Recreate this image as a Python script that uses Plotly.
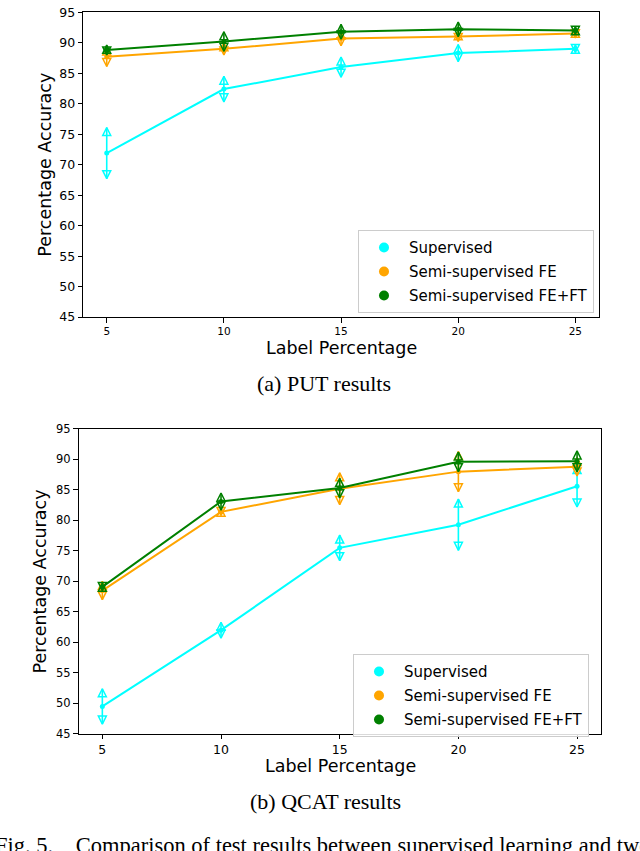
import plotly.graph_objects as go

# ---------------- data ----------------
x_pct = [5, 10, 15, 20, 25]
x_ticks = [5, 10, 15, 20, 25]
y_ticks = [45, 50, 55, 60, 65, 70, 75, 80, 85, 90, 95]

series_names = ["Supervised", "Semi-supervised FE", "Semi-supervised FE+FT"]
series_colors = ["#00ffff", "#ffa500", "#008000"]

# (a) PUT results
put_sup = [71.9, 82.4, 86.0, 88.3, 89.0]
put_sup_err = [4.2, 2.1, 1.65, 1.4, 0.6]
put_fe = [87.7, 89.0, 90.7, 91.0, 91.5]
put_fe_err = [1.6, 1.0, 1.2, 0.8, 0.7]
put_feft = [88.8, 90.2, 91.8, 92.2, 92.0]
put_feft_err = [0.8, 1.6, 1.2, 1.2, 0.6]

# (b) QCAT results
qcat_sup = [49.5, 62.0, 75.5, 79.3, 85.6]
qcat_sup_err = [2.9, 1.3, 2.1, 4.2, 3.4]
qcat_fe = [68.5, 81.4, 85.2, 88.0, 88.8]
qcat_fe_err = [1.5, 0.6, 2.6, 3.3, 1.5]
qcat_feft = [69.1, 83.1, 85.3, 89.6, 89.7]
qcat_feft_err = [0.6, 1.4, 1.6, 1.6, 1.7]

caption_a = "(a) PUT results"
caption_b = "(b) QCAT results"
fig_caption = "Fig. 5.\u00a0\u00a0\u00a0 Comparison of test results between supervised learning and two"
x_title = "Label Percentage"
y_title = "Percentage Accuracy"

# ---------------- figure ----------------
W, H = 640, 851
fig = go.Figure()

panels = [
    ("x", "y", "legend", [put_sup, put_fe, put_feft], [put_sup_err, put_fe_err, put_feft_err]),
    ("x2", "y2", "legend2", [qcat_sup, qcat_fe, qcat_feft], [qcat_sup_err, qcat_fe_err, qcat_feft_err]),
]

for xa, ya, leg, vals, errs in panels:
    for name, color, v, e in zip(series_names, series_colors, vals, errs):
        fig.add_trace(go.Scatter(
            x=x_pct, y=v, xaxis=xa, yaxis=ya, mode="lines+markers",
            line=dict(color=color, width=2), marker=dict(color=color, size=5),
            error_y=dict(type="data", array=e, symmetric=True, color=color,
                         thickness=1.6, width=0),
            showlegend=False, hoverinfo="skip"))
        fig.add_trace(go.Scatter(
            x=x_pct, y=[a + b for a, b in zip(v, e)], xaxis=xa, yaxis=ya, mode="markers",
            marker=dict(symbol="arrow-up-open", size=8, color=color,
                        line=dict(width=1.5, color=color)),
            showlegend=False, hoverinfo="skip"))
        fig.add_trace(go.Scatter(
            x=x_pct, y=[a - b for a, b in zip(v, e)], xaxis=xa, yaxis=ya, mode="markers",
            marker=dict(symbol="arrow-down-open", size=8, color=color,
                        line=dict(width=1.5, color=color)),
            showlegend=False, hoverinfo="skip"))
    for i, (name, color) in enumerate(zip(series_names, series_colors)):
        fig.add_trace(go.Scatter(
            x=[None], y=[None], xaxis=xa, yaxis=ya, mode="markers", name=name,
            marker=dict(color=color, size=10), legend=leg, legendgroup=leg + str(i)))

def px_x(p):
    return p / W

def px_y(p):
    return 1 - p / H

tick_font = "DejaVu Sans"
axis_common = dict(showline=True, linecolor="black", linewidth=1.2, mirror=True,
                   ticks="outside", ticklen=4.5, tickwidth=1.2, tickcolor="black",
                   showgrid=False, zeroline=False)

legend_common = dict(xanchor="left", yanchor="top",
                     bgcolor="rgba(255,255,255,0.85)", bordercolor="#cccccc", borderwidth=1,
                     font=dict(family="DejaVu Sans", size=15), itemwidth=40,
                     tracegroupgap=1.5)

fig.update_layout(
    width=W, height=H, margin=dict(l=0, r=0, t=0, b=0),
    paper_bgcolor="white", plot_bgcolor="white",
    font=dict(family="DejaVu Sans", color="black"),
    xaxis=dict(domain=[px_x(83.3), px_x(598.8)], range=[4, 26], tickvals=x_ticks,
               tickfont=dict(family=tick_font, size=10.5), anchor="y", **axis_common),
    yaxis=dict(domain=[px_y(315.3), px_y(5.3)], range=[45, 95], tickvals=y_ticks,
               tickfont=dict(family=tick_font, size=12.5), anchor="x", **axis_common),
    xaxis2=dict(domain=[px_x(78.6), px_x(600.8)], range=[4, 26], tickvals=x_ticks,
                tickfont=dict(family=tick_font, size=12.5), anchor="y2", **axis_common),
    yaxis2=dict(domain=[px_y(739), px_y(429)], range=[45, 95], tickvals=y_ticks,
                tickfont=dict(family=tick_font, size=11.5), anchor="x2", **axis_common),
    legend=dict(x=px_x(358), y=px_y(227), **legend_common),
    legend2=dict(x=px_x(353), y=px_y(658), **legend_common),
)

ann = []
ann.append(dict(text=y_title, x=px_x(45), y=px_y(160.3), xref="paper", yref="paper",
                textangle=-90, showarrow=False, font=dict(size=17.5, family="DejaVu Sans"),
                xanchor="center", yanchor="middle"))
ann.append(dict(text=y_title, x=px_x(40), y=px_y(584), xref="paper", yref="paper",
                textangle=-90, showarrow=False, font=dict(size=17.5, family="DejaVu Sans"),
                xanchor="center", yanchor="middle"))
ann.append(dict(text=x_title, x=px_x(341), y=px_y(347), xref="paper", yref="paper",
                showarrow=False, font=dict(size=17.5, family="DejaVu Sans"),
                xanchor="center", yanchor="middle"))
ann.append(dict(text=x_title, x=px_x(340), y=px_y(772), xref="paper", yref="paper",
                showarrow=False, font=dict(size=17.5, family="DejaVu Sans"),
                xanchor="center", yanchor="middle"))
ann.append(dict(text=caption_a, x=px_x(324), y=px_y(383), xref="paper", yref="paper",
                showarrow=False, font=dict(size=22, family="Liberation Serif"),
                xanchor="center", yanchor="middle"))
ann.append(dict(text=caption_b, x=px_x(325), y=px_y(808), xref="paper", yref="paper",
                showarrow=False, font=dict(size=22, family="Liberation Serif"),
                xanchor="center", yanchor="middle"))
ann.append(dict(text=fig_caption, x=px_x(-7), y=px_y(853), xref="paper", yref="paper",
                showarrow=False, font=dict(size=22.5, family="Liberation Serif"),
                xanchor="left", yanchor="middle"))
fig.update_layout(annotations=ann)

fig.write_html("out.html")
